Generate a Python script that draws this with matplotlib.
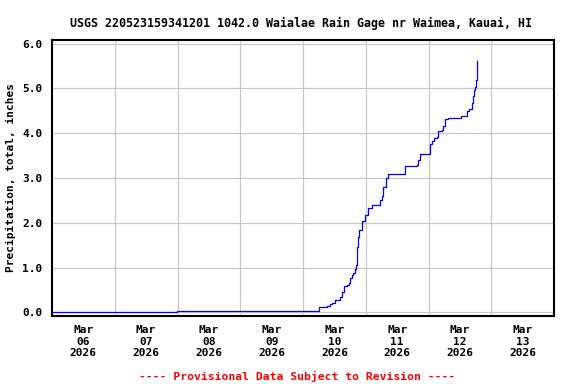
import matplotlib
matplotlib.use("Agg")
import matplotlib.pyplot as plt
import numpy as np
from datetime import datetime, timedelta
import matplotlib.dates as mdates

title = "USGS 220523159341201 1042.0 Waialae Rain Gage nr Waimea, Kauai, HI"
ylabel = "Precipitation, total, inches"
footer = "---- Provisional Data Subject to Revision ----"

start = datetime(2026, 3, 6)
# hours since Mar 06 2026 00:00
hours = [0.0, 47.8, 102.1, 105.1, 106.3, 107.2, 108.2, 110.2, 110.8, 111.7,
         112.7, 113.5, 114.0, 114.6, 115.2, 115.9, 116.3, 116.5, 117.2, 117.5,
         118.5, 119.7, 119.8, 121.0, 122.3, 125.4, 126.1, 126.7, 127.7, 128.4,
         135.0, 135.1, 139.5, 140.1, 140.7, 144.6, 145.2, 146.2, 147.4, 147.5,
         149.1, 149.7, 150.3, 151.6, 156.3, 158.3, 158.6, 159.6, 160.5, 161.1,
         161.4, 161.8, 162.2, 162.5, 162.7]
precip = [0.00, 0.04, 0.12, 0.15, 0.18, 0.22, 0.28, 0.35, 0.46, 0.59,
          0.62, 0.66, 0.76, 0.84, 0.89, 0.98, 1.06, 1.47, 1.68, 1.84,
          2.05, 2.11, 2.17, 2.32, 2.40, 2.51, 2.59, 2.81, 2.99, 3.08,
          3.09, 3.27, 3.29, 3.40, 3.53, 3.77, 3.82, 3.89, 3.91, 4.04,
          4.08, 4.17, 4.31, 4.33, 4.38, 4.39, 4.49, 4.55, 4.67, 4.82,
          4.97, 5.04, 5.19, 5.27, 5.61]

day_labels = ["Mar\n06\n2026", "Mar\n07\n2026", "Mar\n08\n2026", "Mar\n09\n2026",
              "Mar\n10\n2026", "Mar\n11\n2026", "Mar\n12\n2026", "Mar\n13\n2026"]
y_ticks = [0.0, 1.0, 2.0, 3.0, 4.0, 5.0, 6.0]

times = [start + timedelta(hours=h) for h in hours]

W, H = 576, 384
fig = plt.figure(figsize=(W / 100, H / 100), dpi=100)
ax = fig.add_axes([52 / W, 1 - 316 / H, (554 - 52) / W, (316 - 40) / H])

mono = "DejaVu Sans Mono"
fs = 8

ax.plot(times, precip, color="#0000ff", lw=0.9, drawstyle="steps-post", zorder=3)

ax.set_xlim(start, start + timedelta(days=8))
ax.set_ylim(-0.08, 6.08)

major = [start + timedelta(days=i, hours=12) for i in range(len(day_labels))]
minor = [start + timedelta(days=i) for i in range(1, 8)]
ax.set_xticks(major)
ax.set_xticklabels(day_labels, fontfamily=mono, fontweight="bold", fontsize=fs)
ax.set_xticks(minor, minor=True)
ax.set_yticks(y_ticks)
ax.set_yticklabels([f"{v:.1f}" for v in y_ticks], fontfamily=mono, fontweight="bold", fontsize=fs)

ax.tick_params(axis="both", which="both", length=0)
ax.tick_params(axis="x", pad=6.5)
ax.tick_params(axis="y", pad=7)
ax.grid(which="minor", axis="x", color="#c8c8c8", lw=0.9)
ax.grid(which="major", axis="y", color="#c8c8c8", lw=0.9)
ax.grid(which="major", axis="x", visible=False)
ax.set_axisbelow(True)
for s in ax.spines.values():
    s.set_linewidth(1.5)
    s.set_color("black")

fig.text(11 / W, 1 - 177 / H, ylabel, rotation=90, ha="center", va="center",
         fontfamily=mono, fontweight="bold", fontsize=fs)
fig.text(301 / W, 1 - 26.5 / H, title, ha="center", va="baseline",
         fontfamily=mono, fontweight="bold", fontsize=8.4)
fig.text(297.5 / W, 1 - 379.5 / H, footer, ha="center", va="baseline", color="#ff0000",
         fontfamily=mono, fontweight="bold", fontsize=8.2)

fig.savefig("out.png", dpi=100)
